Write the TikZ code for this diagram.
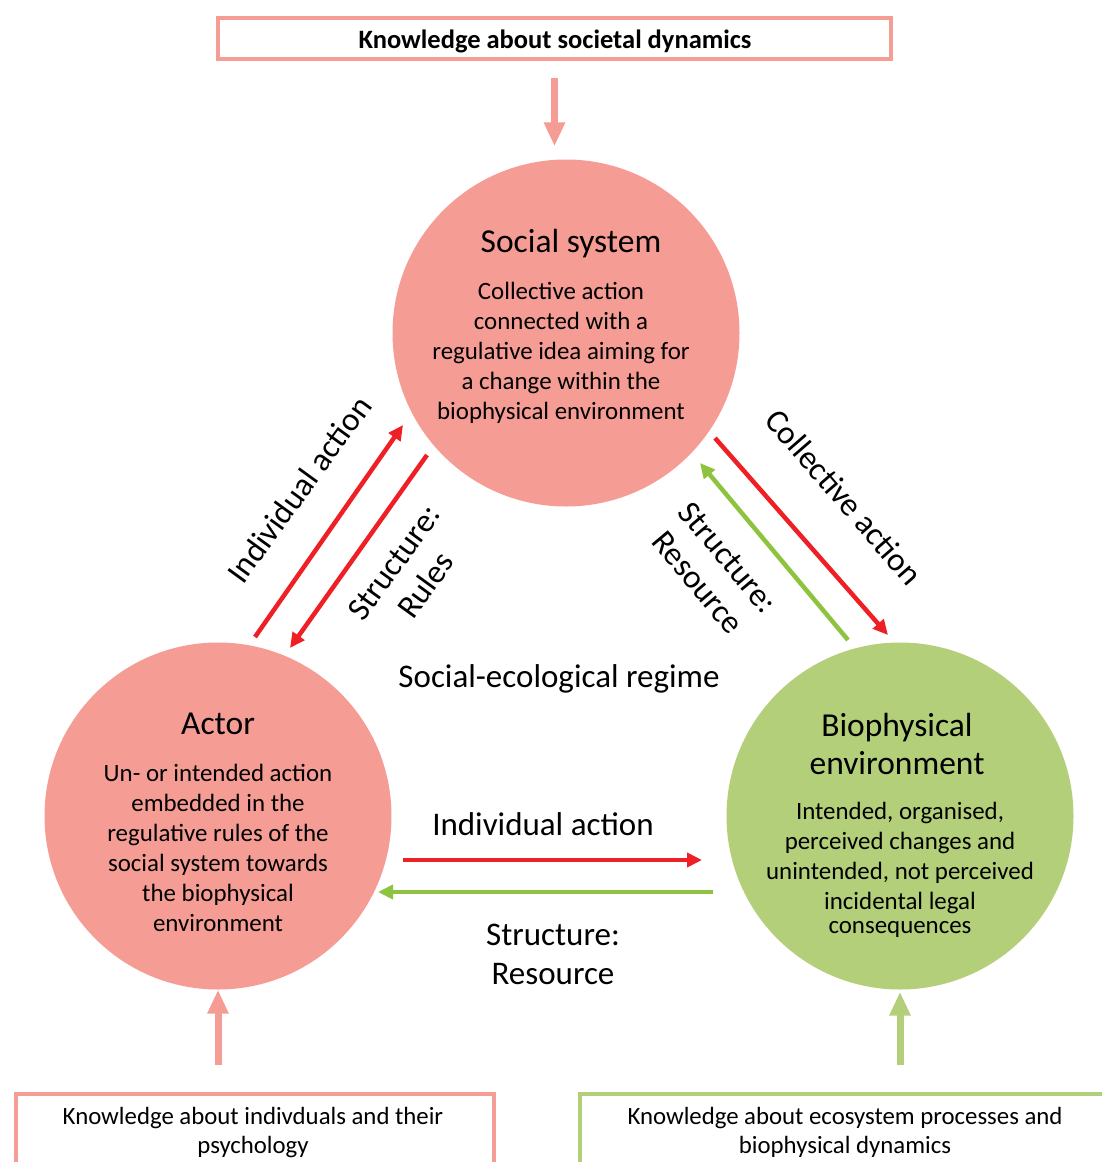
\documentclass[tikz,border=0pt]{standalone}
\usepackage{fontspec}
\setmainfont{Carlito}
\usetikzlibrary{arrows.meta}
\definecolor{pinkc}{HTML}{F59D95}
\definecolor{greenc}{HTML}{B3CF7A}
\definecolor{redar}{HTML}{EE2025}
\definecolor{greenar}{HTML}{8DC33F}
\begin{document}
\begin{tikzpicture}[x=1pt,y=-1pt,
  circ/.style={circle, inner sep=0pt, minimum size=347pt},
  titletext/.style={font=\fontsize{33.5}{38}\selectfont, align=center, inner sep=0pt},
  bodytext/.style={font=\fontsize{24.9}{30}\selectfont, align=center, inner sep=0pt},
  labtext/.style={font=\fontsize{33}{39}\selectfont, align=center, inner sep=0pt},
  boxtext/.style={font=\fontsize{24.8}{29}\selectfont, align=center, inner sep=0pt},
  redarrow/.style={draw=redar, line width=4.5pt, -{Triangle[length=15pt,width=14pt]}},
  greenarrow/.style={draw=greenar, line width=4.5pt, -{Triangle[length=15pt,width=14pt]}},
  bigpink/.style={draw=pinkc, line width=7pt, -{Triangle[length=24pt,width=20pt]}},
  biggreen/.style={draw=greenc, line width=7pt, -{Triangle[length=24pt,width=20pt]}}
]
\useasboundingbox (0,0) rectangle (1102,1162);

% boxes
\node[draw=pinkc, line width=3.5pt, minimum width=673pt, minimum height=41pt, inner sep=0pt] (topbox) at (554.5,38.5) {};
\node[font=\fontsize{26.5}{30}\selectfont\bfseries, inner sep=0pt] (toptext) at (555,41) {Knowledge about societal dynamics};

\node[draw=pinkc, line width=3.5pt, minimum width=478pt, minimum height=106pt, inner sep=0pt] (lbox) at (255,1147) {};
\node[boxtext] (ltext) at (253,1132.5) {Knowledge about indivduals and their\\psychology};

\node[draw=greenc, line width=3.5pt, minimum width=530pt, minimum height=106pt, inner sep=0pt] (rbox) at (845,1147) {};
\node[boxtext] (rtext) at (845,1132.5) {Knowledge about ecosystem processes and\\biophysical dynamics};

% circles
\node[circ, fill=pinkc] (soc) at (566,333) {};
\node[circ, fill=pinkc] (act) at (218,816) {};
\node[circ, fill=greenc] (bio) at (900,816) {};

\node[titletext] (soct) at (571,244) {Social system};
\node[bodytext] (socb) at (561,353) {Collective action\\connected with a\\regulative idea aiming for\\a change within the\\biophysical environment};

\node[titletext] (actt) at (218,724) {Actor};
\node[bodytext] (actb) at (218,848) {Un- or intended action\\embedded in the\\regulative rules of the\\social system towards\\the biophysical\\environment};

\node[titletext] (biot) at (897,744) {Biophysical\\environment};
\node[bodytext] (biob) at (900,870) {Intended, organised,\\perceived changes and\\unintended, not perceived\\incidental legal\\[-6pt]consequences};

% coordinates for connectors
\coordinate (ia1) at (255,637);
\coordinate (ia2) at (403,425);
\coordinate (sr1) at (427,455);
\coordinate (sr2) at (290,648);
\coordinate (ca1) at (715,438);
\coordinate (ca2) at (888,635);
\coordinate (rs1) at (848,640);
\coordinate (rs2) at (700,463);
\coordinate (bi1) at (403,860);
\coordinate (bi2) at (702,860);
\coordinate (bs1) at (713,892);
\coordinate (bs2) at (378,892);

\draw[bigpink, shorten <=17pt, shorten >=13pt] (topbox.south) -- (topbox.south |- soc.north);
\draw[bigpink, shorten <=27pt] (act.south |- lbox.north) -- (act.south);
\draw[biggreen, shorten <=27pt, shorten >=2pt] (bio.south |- rbox.north) -- (bio.south);

\draw[redarrow] (ia1) -- (ia2);
\draw[redarrow] (sr1) -- (sr2);
\draw[redarrow] (ca1) -- (ca2);
\draw[greenarrow] (rs1) -- (rs2);
\draw[redarrow] (bi1) -- (bi2);
\draw[greenarrow] (bs1) -- (bs2);

% labels
\node[labtext, rotate=54] (lia) at (299,489) {Individual action};
\node[labtext, rotate=54] (lsr) at (410,574) {Structure:\\Rules};
\node[labtext, rotate=-49] (lca) at (844,497) {Collective action};
\node[labtext, rotate=-50] (lrs) at (713,570) {Structure:\\Resource};
\node[labtext] (lreg) at (559,679) {Social-ecological regime};
\node[labtext] (lbi) at (543,824) {Individual action};
\node[labtext] (lbs) at (553,954) {Structure:\\Resource};
\end{tikzpicture}
\end{document}
